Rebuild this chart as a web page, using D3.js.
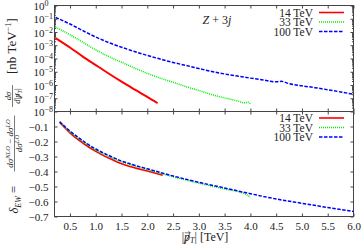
<html>
<head>
<meta charset="utf-8">
<script src="https://cdnjs.cloudflare.com/ajax/libs/d3/7.8.5/d3.min.js"></script>
<style>
body { margin: 0; background: #fff; }
text { font-family: "Liberation Serif", "DejaVu Serif", serif; fill: #222; }
.it { font-style: italic; }
</style>
</head>
<body>
<svg id="chart" width="362" height="247"></svg>
<script>
// upper panel: d sigma / d|pT| [nb/TeV]
var xRed = [0.22, 0.5, 0.75, 1.0, 1.25, 1.5, 1.75, 2.0, 2.2];
var sigRed = [3.5e-3, 6.8e-4, 1.4e-4, 3.2e-5, 7.4e-6, 1.8e-6, 4.7e-7, 1.26e-7, 4.2e-8];
var xGreen = [0.22, 0.5, 0.75, 1.0, 1.25, 1.5, 1.75, 2.0, 2.25, 2.5, 2.75, 3.0, 3.25, 3.5, 3.75, 3.9, 3.95, 4.0];
var sigGreen = [2.3e-2, 6.3e-3, 1.66e-3, 4.5e-4, 1.4e-4, 5.2e-5, 1.9e-5, 7.6e-6, 3.3e-6, 1.6e-6, 7.6e-7, 3.8e-7, 1.9e-7, 1.07e-7, 6.3e-8, 4.4e-8, 5.2e-8, 3.8e-8];
var xBlue = [0.22, 0.5, 0.75, 1.0, 1.25, 1.5, 1.75, 2.0, 2.25, 2.5, 2.75, 3.0, 3.25, 3.5, 3.75, 4.0, 4.25, 4.5, 4.6, 4.75, 5.0, 5.25, 5.5, 5.75, 6.0];
var sigBlue = [1.26e-1, 4.0e-2, 1.26e-2, 4.2e-3, 1.6e-3, 7.1e-4, 3.4e-4, 1.7e-4, 9.1e-5, 5.0e-5, 3.0e-5, 1.74e-5, 1.05e-5, 6.8e-6, 4.7e-6, 3.3e-6, 2.4e-6, 1.74e-6, 1.9e-6, 1.26e-6, 8.7e-7, 6.3e-7, 4.4e-7, 3.0e-7, 2.0e-7];

// lower panel: delta_EW
var xRedEW = [0.3, 0.4, 0.5, 0.75, 1.0, 1.25, 1.5, 1.75, 2.0, 2.3];
var ewRed = [-0.072, -0.108, -0.142, -0.21, -0.266, -0.31, -0.348, -0.375, -0.397, -0.425];
var xGreenEW = [0.3, 0.4, 0.5, 0.75, 1.0, 1.25, 1.5, 1.75, 2.0, 2.5, 3.0, 3.5, 3.9, 4.0];
var ewGreen = [-0.07, -0.104, -0.136, -0.2, -0.256, -0.3, -0.335, -0.362, -0.387, -0.435, -0.478, -0.517, -0.55, -0.572];
var xBlueEW = [0.3, 0.4, 0.5, 0.75, 1.0, 1.25, 1.5, 1.75, 2.0, 2.5, 3.0, 3.5, 4.0, 4.5, 5.0, 5.5, 6.0];
var ewBlue = [-0.068, -0.1, -0.13, -0.195, -0.25, -0.293, -0.33, -0.358, -0.382, -0.43, -0.472, -0.51, -0.548, -0.583, -0.612, -0.64, -0.667];

var seriesNames = ['14 TeV', '33 TeV', '100 TeV'];
var xTicks = [0.5, 1.0, 1.5, 2.0, 2.5, 3.0, 3.5, 4.0, 4.5, 5.0, 5.5, 6.0];
var ewTicks = [-0.7, -0.6, -0.5, -0.4, -0.3, -0.2, -0.1];

var colors = ['#ff0000', '#00ee00', '#0000ff'];
var dashes = [null, '1,1', '3.5,1.5'];
var widths = [2, 1.5, 1.5];

var svg = d3.select('#chart');
var L = 54.5, R = 353.5, T = 5.5, M = 111.5, B = 216.5;

var x = d3.scaleLinear().domain([0.2, 6]).range([L, R]);
var yTop = d3.scaleLog().domain([1e-8, 1]).range([M, T]);
var yBot = d3.scaleLinear().domain([-0.7, 0]).range([B, M]);

function ticksOnly(axis, tr) {
    var g = svg.append('g').attr('transform', tr).call(axis);
    g.select('.domain').remove();
    g.selectAll('line').attr('stroke', '#444');
    return g;
}

// x ticks on both panels, top and bottom
ticksOnly(d3.axisBottom(x).tickValues(xTicks).tickSize(-3).tickFormat(''), 'translate(0,' + M + ')');
ticksOnly(d3.axisTop(x).tickValues(xTicks).tickSize(-3).tickFormat(''), 'translate(0,' + T + ')');
ticksOnly(d3.axisTop(x).tickValues(xTicks).tickSize(-3).tickFormat(''), 'translate(0,' + M + ')');
var xAx = ticksOnly(d3.axisBottom(x).tickValues(xTicks).tickSize(-3).tickPadding(6).tickFormat(d3.format('.1f')), 'translate(0,' + B + ')');
xAx.selectAll('text').attr('font-size', 11).attr('font-family', null).attr('fill', '#222');

// log ticks
var majors = d3.range(-8, 1).map(function (e) { return Math.pow(10, e); });
var minors = [];
d3.range(-8, 0).forEach(function (e) {
    for (var k = 2; k < 10; k++) minors.push(k * Math.pow(10, e));
});
ticksOnly(d3.axisLeft(yTop).tickValues(minors).tickSize(-1.5).tickFormat(''), 'translate(' + L + ',0)');
ticksOnly(d3.axisRight(yTop).tickValues(minors).tickSize(-1.5).tickFormat(''), 'translate(' + R + ',0)');
ticksOnly(d3.axisRight(yTop).tickValues(majors).tickSize(-3).tickFormat(''), 'translate(' + R + ',0)');
var yAx = ticksOnly(d3.axisLeft(yTop).tickValues(majors).tickSize(-3).tickFormat(''), 'translate(' + L + ',0)');
yAx.selectAll('.tick').append('text')
    .attr('x', -21).attr('y', 4).attr('text-anchor', 'start').attr('font-size', 11).attr('fill', '#222')
    .each(function (d) {
        var e = Math.round(Math.log10(d));
        var t = d3.select(this);
        t.append('tspan').text('10');
        t.append('tspan').attr('dy', -4).attr('font-size', 8).text(e === 0 ? '0' : '\u2212' + (-e));
    });

// delta ticks
ticksOnly(d3.axisRight(yBot).tickValues(ewTicks).tickSize(-3).tickFormat(''), 'translate(' + R + ',0)');
var ewAx = ticksOnly(d3.axisLeft(yBot).tickValues(ewTicks).tickSize(-3).tickPadding(6)
    .tickFormat(function (d) { return '\u2212' + d3.format('.1f')(Math.abs(d)); }), 'translate(' + L + ',0)');
ewAx.selectAll('text').attr('font-size', 11).attr('font-family', null).attr('fill', '#222');

// frames
[[T, M], [M, B]].forEach(function (p) {
    svg.append('rect').attr('x', L).attr('y', p[0]).attr('width', R - L).attr('height', p[1] - p[0])
        .attr('fill', 'none').attr('stroke', '#444').attr('stroke-width', 1);
});

// curves
var topSets = [[xRed, sigRed], [xGreen, sigGreen], [xBlue, sigBlue]];
var botSets = [[xRedEW, ewRed], [xGreenEW, ewGreen], [xBlueEW, ewBlue]];
var lineTop = d3.line().x(function (d) { return x(d[0]); }).y(function (d) { return yTop(d[1]); }).curve(d3.curveMonotoneX);
var lineBot = d3.line().x(function (d) { return x(d[0]); }).y(function (d) { return yBot(d[1]); }).curve(d3.curveMonotoneX);

topSets.forEach(function (s, i) {
    svg.append('path').datum(d3.zip(s[0], s[1])).attr('d', lineTop)
        .attr('fill', 'none').attr('stroke', colors[i]).attr('stroke-width', widths[i])
        .attr('stroke-dasharray', dashes[i]);
});
botSets.forEach(function (s, i) {
    svg.append('path').datum(d3.zip(s[0], s[1])).attr('d', lineBot)
        .attr('fill', 'none').attr('stroke', colors[i]).attr('stroke-width', i === 0 ? 1.6 : 1.5)
        .attr('stroke-dasharray', dashes[i]);
});

// legends
[T + 7, M + 6.5].forEach(function (y0) {
    seriesNames.forEach(function (n, i) {
        var yy = y0 + i * 9.5;
        svg.append('text').attr('x', 313).attr('y', yy + 4).attr('text-anchor', 'end').attr('font-size', 11.5).text(n);
        svg.append('line').attr('x1', 319).attr('x2', 344).attr('y1', yy).attr('y2', yy)
            .attr('stroke', colors[i]).attr('stroke-width', i === 0 ? 1.6 : 1.5).attr('stroke-dasharray', dashes[i]);
    });
});

// Z + 3j
var zt = svg.append('text').attr('x', 217).attr('y', 24).attr('text-anchor', 'middle').attr('font-size', 12);
zt.append('tspan').attr('class', 'it').text('Z');
zt.append('tspan').text(' + 3');
zt.append('tspan').attr('class', 'it').text('j');

// slash through the p (and optional arrow above it), placed from the glyph box
function slashP(g, textSel, idx, arrow) {
    var b = textSel.node().getExtentOfChar(idx);
    g.append('line').attr('x1', b.x + b.width * 0.15).attr('x2', b.x + b.width * 0.95)
        .attr('y1', b.y + b.height * 0.95).attr('y2', b.y + b.height * 0.3)
        .attr('stroke', '#222').attr('stroke-width', 0.7);
    if (arrow) {
        var ay = b.y + b.height * 0.2, ax0 = b.x + b.width * 0.1, ax1 = b.x + b.width * 1.05;
        g.append('path').attr('d', 'M' + ax0 + ',' + ay + 'H' + ax1 + 'M' + (ax1 - 2) + ',' + (ay - 1.3) + 'L' + ax1 + ',' + ay + 'L' + (ax1 - 2) + ',' + (ay + 1.3))
            .attr('fill', 'none').attr('stroke', '#222').attr('stroke-width', 0.6);
    }
}

// x title
var xt = svg.append('text').attr('x', 205).attr('y', 241).attr('text-anchor', 'middle').attr('font-size', 12);
xt.append('tspan').text('|');
xt.append('tspan').attr('class', 'it').text('p');
xt.append('tspan').attr('class', 'it').attr('font-size', 8).attr('dy', 2).text('T');
xt.append('tspan').attr('dy', -2).text('| [TeV]');
slashP(svg, xt, 1, true);

// upper y title
var gy = svg.append('g').attr('transform', 'translate(16,58) rotate(-90)');
var br = gy.append('text').attr('x', 12).attr('y', 0).attr('text-anchor', 'middle').attr('font-size', 13);
br.append('tspan').text('[nb TeV');
br.append('tspan').attr('dy', -5).attr('font-size', 8.5).text('\u22121');
br.append('tspan').attr('dy', 5).text(']');
gy.append('text').attr('x', -38).attr('y', -5.5).attr('text-anchor', 'middle').attr('font-size', 8.5)
    .append('tspan').attr('class', 'it').text('d\u03c3');
gy.append('line').attr('x1', -49).attr('x2', -27).attr('y1', -3.5).attr('y2', -3.5).attr('stroke', '#222').attr('stroke-width', 0.6);
var den = gy.append('text').attr('x', -38).attr('y', 4).attr('text-anchor', 'middle').attr('font-size', 8.5);
den.append('tspan').attr('class', 'it').text('d');
den.append('tspan').text('|');
den.append('tspan').attr('class', 'it').text('p');
den.append('tspan').attr('class', 'it').attr('font-size', 6).attr('dy', 1.5).text('T');
den.append('tspan').attr('dy', -1.5).text('|');
slashP(gy, den, 2, false);

// lower y title
var gd = svg.append('g').attr('transform', 'translate(18,163.5) rotate(-90)');
var dl = gd.append('text').attr('x', -50).attr('y', 0).attr('font-size', 12.5);
dl.append('tspan').attr('class', 'it').text('\u03b4');
dl.append('tspan').attr('class', 'it').attr('font-size', 8).attr('dy', 2.5).text('EW');
dl.append('tspan').attr('dy', -2.5).text(' =');
var num = gd.append('text').attr('x', 20).attr('y', -5.5).attr('text-anchor', 'middle').attr('font-size', 9);
num.append('tspan').attr('class', 'it').text('d\u03c3');
num.append('tspan').attr('class', 'it').attr('font-size', 6.5).attr('dy', -3).text('NLO');
num.append('tspan').attr('dy', 3).text(' \u2212 ');
num.append('tspan').attr('class', 'it').text('d\u03c3');
num.append('tspan').attr('class', 'it').attr('font-size', 6.5).attr('dy', -3).text('LO');
gd.append('line').attr('x1', -8).attr('x2', 48).attr('y1', -3.5).attr('y2', -3.5).attr('stroke', '#222').attr('stroke-width', 0.6);
var dd = gd.append('text').attr('x', 20).attr('y', 4).attr('text-anchor', 'middle').attr('font-size', 9);
dd.append('tspan').attr('class', 'it').text('d\u03c3');
dd.append('tspan').attr('class', 'it').attr('font-size', 6.5).attr('dy', -3).text('LO');
</script>
</body>
</html>
